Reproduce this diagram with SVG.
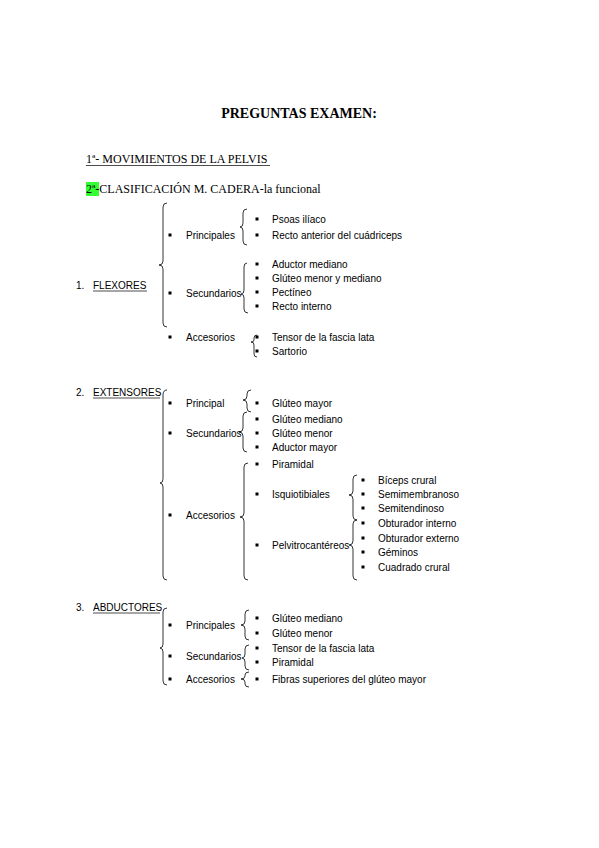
<svg xmlns="http://www.w3.org/2000/svg" width="599" height="848" viewBox="0 0 599 848">
<style>
.s{font-family:"Liberation Sans",Arial,sans-serif;font-size:10px;fill:#000}
.t{font-family:"Liberation Serif","Times New Roman",serif;fill:#000}
.b{fill:none;stroke:#000;stroke-width:0.8}
.u{stroke:#000;stroke-width:0.7}
</style>
<defs><rect id="sq" x="-1.5" y="-1.5" width="3" height="3" fill="#000"/></defs>
<rect width="599" height="848" fill="#fff"/>
<g id="header">
<text class="t" x="299" y="118" font-size="14" font-weight="bold" text-anchor="middle">PREGUNTAS EXAMEN:</text>
<text class="t" x="86" y="163" font-size="12">1ª- MOVIMIENTOS DE LA PELVIS</text>
<line class="u" x1="86" y1="165.5" x2="270" y2="165.5"/>
<rect x="86" y="182" width="13" height="14" fill="#33ff33"/>
<text class="t" x="86" y="193" font-size="12">2ª-CLASIFICACIÓN M. CADERA-la funcional</text>
</g>
<g id="braces">
<!-- flexores -->
<path class="b" d="M167 203 Q163 203 163 207 L163 261 Q163 265 159 265 Q163 265 163 269 L163 323 Q163 327 167 327"/>
<path class="b" d="M247 209 Q243 209 243 213 L243 223 Q243 227 240 227 Q243 227 243 231 L243 241 Q243 245 247 245"/>
<path class="b" d="M247 263 Q244 263 244 267 L244 290 Q244 294 241 294 Q244 294 244 298 L244 309 Q244 313 248 313"/>
<path class="b" d="M257 335 Q254 335 254 338 L254 340 Q254 342 251 342 Q254 342 254 345 L254 354 Q254 357 257 357"/>
<!-- extensores -->
<path class="b" d="M167 390 Q163 390 163 395 L163 479 Q163 483 160 483 Q163 483 163 487 L163 576 Q163 580 167 580"/>
<path class="b" d="M251 390 Q247 390 247 394 L247 396 Q247 400 243 400 Q247 400 247 404 L247 408 Q247 412 251 412"/>
<path class="b" d="M247 412 Q243 412 243 416 L243 428 Q243 432 239 432 Q243 432 243 436 L243 448 Q243 452 247 452"/>
<path class="b" d="M248 463 Q244 463 244 467 L244 513 Q244 517 240 517 Q244 517 244 521 L244 576 Q244 580 248 580"/>
<path class="b" d="M357 475 Q353 475 353 479 L353 491 Q353 495 349 495 Q353 495 353 499 L353 516 Q353 520 357 520"/>
<path class="b" d="M357 520 Q353 520 353 524 L353 541 Q353 545 349 545 Q353 545 353 549 L353 576 Q353 580 357 580"/>
<!-- abductores -->
<path class="b" d="M167 608 Q163 608 163 612 L163 644 Q163 648 160 648 Q163 648 163 652 L163 681 Q163 685 167 685"/>
<path class="b" d="M249 610 Q245 610 245 614 L245 621 Q245 625 241 625 Q245 625 245 629 L245 636 Q245 640 249 640"/>
<path class="b" d="M249 645 Q245 645 245 649 L245 654 Q245 658 242 658 Q245 658 245 662 L245 666 Q245 670 249 670"/>
<path class="b" d="M249 672 Q245 672 245 675 L245 676 Q245 679 241 679 Q245 679 245 682 L245 684 Q245 687 249 687"/>
</g>
<g id="flexores">
<text class="s" x="76" y="289">1.</text>
<text class="s" x="93" y="289">FLEXORES</text>
<line class="u" x1="93" y1="291" x2="147" y2="291"/>
<use href="#sq" x="170" y="235"/><text class="s" x="186" y="238.5">Principales</text>
<use href="#sq" x="170" y="293"/><text class="s" x="186" y="296.5">Secundarios</text>
<use href="#sq" x="170" y="337"/><text class="s" x="186" y="340.5">Accesorios</text>
<use href="#sq" x="257" y="219"/><text class="s" x="272" y="222.5">Psoas ilíaco</text>
<use href="#sq" x="257" y="235"/><text class="s" x="272" y="238.5">Recto anterior del cuádriceps</text>
<use href="#sq" x="257" y="264"/><text class="s" x="272" y="267.5">Aductor mediano</text>
<use href="#sq" x="257" y="278"/><text class="s" x="272" y="281.5">Glúteo menor y mediano</text>
<use href="#sq" x="257" y="292"/><text class="s" x="272" y="295.5">Pectíneo</text>
<use href="#sq" x="257" y="306"/><text class="s" x="272" y="309.5">Recto interno</text>
<use href="#sq" x="257" y="337"/><text class="s" x="272" y="340.5">Tensor de la fascia lata</text>
<use href="#sq" x="257" y="351"/><text class="s" x="272" y="354.5">Sartorio</text>
</g>
<g id="extensores">
<text class="s" x="76" y="396">2.</text>
<text class="s" x="93" y="396">EXTENSORES</text>
<line class="u" x1="93" y1="398" x2="160" y2="398"/>
<use href="#sq" x="170" y="403"/><text class="s" x="186" y="406.5">Principal</text>
<use href="#sq" x="170" y="433"/><text class="s" x="186" y="436.5">Secundarios</text>
<use href="#sq" x="170" y="515"/><text class="s" x="186" y="518.5">Accesorios</text>
<use href="#sq" x="257" y="403"/><text class="s" x="272" y="406.5">Glúteo mayor</text>
<use href="#sq" x="257" y="419"/><text class="s" x="272" y="422.5">Glúteo mediano</text>
<use href="#sq" x="257" y="433"/><text class="s" x="272" y="436.5">Glúteo menor</text>
<use href="#sq" x="257" y="447"/><text class="s" x="272" y="450.5">Aductor mayor</text>
<use href="#sq" x="257" y="464"/><text class="s" x="272" y="467.5">Piramidal</text>
<use href="#sq" x="257" y="494"/><text class="s" x="272" y="497.5">Isquiotibiales</text>
<use href="#sq" x="257" y="545"/><text class="s" x="272" y="548.5">Pelvitrocantéreos</text>
<use href="#sq" x="363" y="480"/><text class="s" x="378" y="483.5">Bíceps crural</text>
<use href="#sq" x="363" y="494"/><text class="s" x="378" y="497.5">Semimembranoso</text>
<use href="#sq" x="363" y="508"/><text class="s" x="378" y="511.5">Semitendinoso</text>
<use href="#sq" x="363" y="523"/><text class="s" x="378" y="526.5">Obturador interno</text>
<use href="#sq" x="363" y="538"/><text class="s" x="378" y="541.5">Obturador externo</text>
<use href="#sq" x="363" y="552"/><text class="s" x="378" y="555.5">Géminos</text>
<use href="#sq" x="363" y="567"/><text class="s" x="378" y="570.5">Cuadrado crural</text>
</g>
<g id="abductores">
<text class="s" x="76" y="611">3.</text>
<text class="s" x="93" y="611">ABDUCTORES</text>
<line class="u" x1="93" y1="613" x2="160" y2="613"/>
<use href="#sq" x="170" y="625"/><text class="s" x="186" y="628.5">Principales</text>
<use href="#sq" x="170" y="656"/><text class="s" x="186" y="659.5">Secundarios</text>
<use href="#sq" x="170" y="679"/><text class="s" x="186" y="682.5">Accesorios</text>
<use href="#sq" x="257" y="618"/><text class="s" x="272" y="621.5">Glúteo mediano</text>
<use href="#sq" x="257" y="633"/><text class="s" x="272" y="636.5">Glúteo menor</text>
<use href="#sq" x="257" y="648"/><text class="s" x="272" y="651.5">Tensor de la fascia lata</text>
<use href="#sq" x="257" y="662"/><text class="s" x="272" y="665.5">Piramidal</text>
<use href="#sq" x="257" y="679"/><text class="s" x="272" y="682.5">Fibras superiores del glúteo mayor</text>
</g>
</svg>
